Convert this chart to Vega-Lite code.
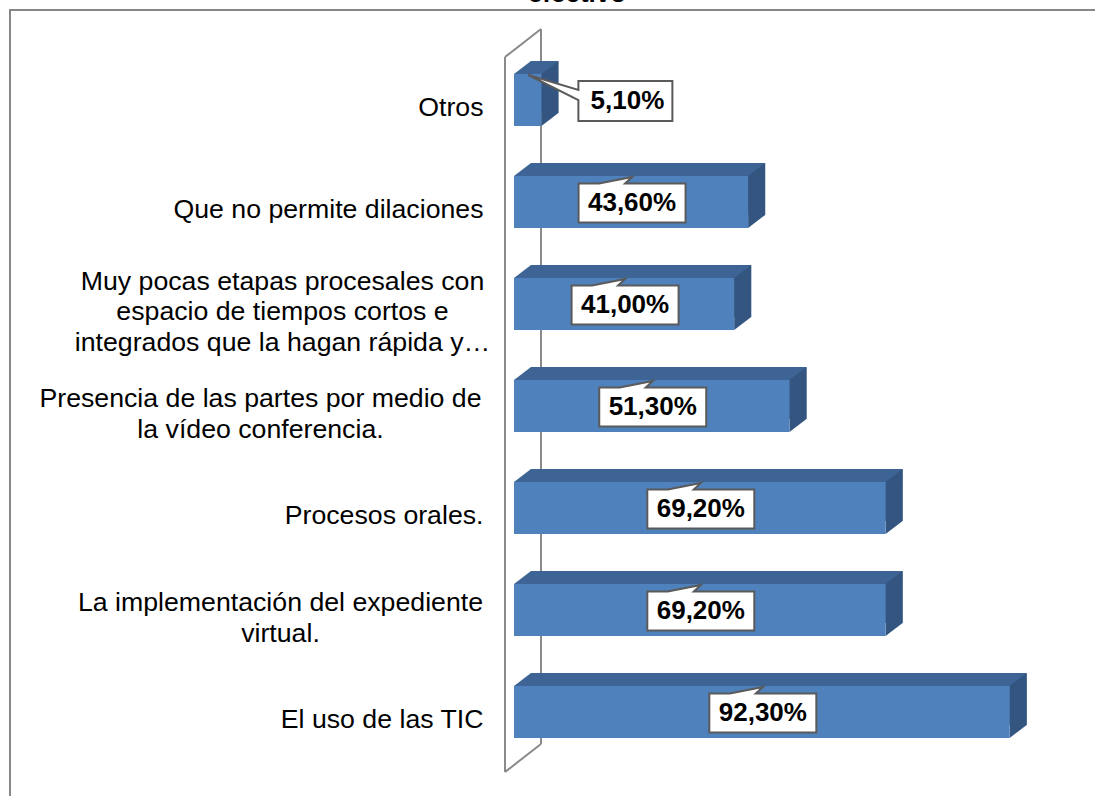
{
  "$schema": "https://vega.github.io/schema/vega-lite/v6.json",
  "autosize": "none",
  "width": 1100,
  "height": 800,
  "padding": {"left": 10, "top": 10, "right": -15, "bottom": -14},
  "title": {"text": "efectivo", "fontSize": 26, "fontWeight": "bold", "color": "#000000", "anchor": "middle", "frame": "group", "offset": -18, "baseline": "alphabetic", "dx": 17},
  "config": {
    "font": "Liberation Sans",
    "view": {"stroke": "#878787", "strokeWidth": 2},
    "axis": {"domain": false, "ticks": false, "grid": false},
    "locale": {"number": {"decimal": ",", "thousands": ".", "grouping": [3], "currency": ["", " €"]}}
  },
  "data": {"values": [
    {"cat": "Otros", "value": 0.051},
    {"cat": "Que no permite dilaciones", "value": 0.436},
    {"cat": "Muy pocas etapas procesales con\nespacio de tiempos cortos e\nintegrados que la hagan rápida y…", "value": 0.41},
    {"cat": "Presencia de las partes por medio de\nla vídeo conferencia.", "value": 0.513},
    {"cat": "Procesos orales.", "value": 0.692},
    {"cat": "La implementación del expediente\nvirtual.", "value": 0.692},
    {"cat": "El uso de las TIC", "value": 0.923}
  ]},
  "resolve": {"scale": {"x": "independent"}},
  "layer": [
    {
      "data": {"values": [{}]},
      "mark": {"type": "rule", "color": "#8a8a8a", "strokeWidth": 2, "xOffset": -9, "yOffset": -43, "y2Offset": 60},
      "encoding": {
        "x": {"datum": 0, "type": "quantitative", "scale": {"domain": [0, 1], "range": [504, 1041]}, "axis": null},
        "y": {"datum": "Otros", "type": "nominal", "title": null,
              "scale": {"domain": ["Otros", "Que no permite dilaciones", "Muy pocas etapas procesales con\nespacio de tiempos cortos e\nintegrados que la hagan rápida y…", "Presencia de las partes por medio de\nla vídeo conferencia.", "Procesos orales.", "La implementación del expediente\nvirtual.", "El uso de las TIC"], "range": [39, 753], "paddingInner": 0.49, "paddingOuter": 0.245},
              "axis": {"offset": -473, "labelFontSize": 26.7, "labelColor": "#000000", "labelLimit": 0, "labelLineHeight": 30.5,
                       "labelExpr": "split(datum.label, '\\n')",
                       "labelAlign": {"condition": {"test": "indexof(datum.value, '\\n') >= 0", "value": "center"}, "value": "right"},
                       "labelOffset": {"condition": [
                         {"test": "indexof(datum.value, 'Muy') == 0", "value": -22.5},
                         {"test": "indexof(datum.value, '\\n') >= 0", "value": -7}
                       ], "value": 8},
                       "labelPadding": {"condition": [
                         {"test": "indexof(datum.value, 'Muy') == 0", "value": 201},
                         {"test": "indexof(datum.value, 'Presencia') == 0", "value": 223},
                         {"test": "indexof(datum.value, 'La impl') == 0", "value": 203}
                       ], "value": 0}}},
        "y2": {"datum": "El uso de las TIC"}
      }
    },
    {
      "data": {"values": [{}]},
      "mark": {"type": "rule", "color": "#8a8a8a", "strokeWidth": 2, "xOffset": 27, "yOffset": -71, "y2Offset": 32},
      "encoding": {
        "x": {"datum": 0, "type": "quantitative", "scale": {"domain": [0, 1], "range": [504, 1041]}, "axis": null},
        "y": {"datum": "Otros", "type": "nominal", "title": null},
        "y2": {"datum": "El uso de las TIC"}
      }
    },
    {
      "data": {"values": [{}]},
      "mark": {"type": "rule", "color": "#8a8a8a", "strokeWidth": 2, "xOffset": -9, "x2Offset": 27, "yOffset": -43, "y2Offset": -71},
      "encoding": {
        "x": {"datum": 0, "type": "quantitative", "scale": {"domain": [0, 1], "range": [504, 1041]}, "axis": null},
        "x2": {"datum": 0},
        "y": {"datum": "Otros", "type": "nominal", "title": null},
        "y2": {"datum": "Otros"}
      }
    },
    {
      "data": {"values": [{}]},
      "mark": {"type": "rule", "color": "#8a8a8a", "strokeWidth": 2, "xOffset": -9, "x2Offset": 27, "yOffset": 60, "y2Offset": 32},
      "encoding": {
        "x": {"datum": 0, "type": "quantitative", "scale": {"domain": [0, 1], "range": [504, 1041]}, "axis": null},
        "x2": {"datum": 0},
        "y": {"datum": "El uso de las TIC", "type": "nominal", "title": null},
        "y2": {"datum": "El uso de las TIC"}
      }
    },
    {
      "mark": {"type": "bar", "color": "#3d6494", "xOffset": 17, "x2Offset": 17, "yOffset": -13, "y2Offset": -13},
      "encoding": {
        "x": {"field": "value", "type": "quantitative", "scale": {"domain": [0, 1], "range": [504, 1041]}, "axis": null},
        "y": {"field": "cat", "type": "nominal", "title": null}
      }
    },
    {
      "mark": {"type": "point", "shape": "M0,-26L17,-39L17,13L0,26Z", "size": 4, "filled": true, "color": "#335580", "opacity": 1, "strokeWidth": 0},
      "encoding": {
        "x": {"field": "value", "type": "quantitative", "scale": {"domain": [0, 1], "range": [504, 1041]}, "axis": null},
        "y": {"field": "cat", "type": "nominal", "title": null}
      }
    },
    {
      "mark": {"type": "bar", "color": "#4f81bd"},
      "encoding": {
        "x": {"field": "value", "type": "quantitative", "scale": {"domain": [0, 1], "range": [504, 1041]}, "axis": null},
        "y": {"field": "cat", "type": "nominal", "title": null}
      }
    },
    {
      "mark": {"type": "point", "shape": "M0,-26L17,-39L17,-26Z", "size": 4, "filled": true, "color": "#3d6494", "opacity": 1, "strokeWidth": 0},
      "encoding": {
        "x": {"datum": 0, "type": "quantitative", "scale": {"domain": [0, 1], "range": [504, 1041]}, "axis": null},
        "y": {"field": "cat", "type": "nominal", "title": null}
      }
    },
    {
      "transform": [{"filter": "datum.value > 0.1"}],
      "mark": {"type": "point", "shape": "M-53.5,-19.5L-33,-19.5L0,-26L-7,-19.5L53.5,-19.5L53.5,19.5L-53.5,19.5Z", "size": 4, "fill": "#ffffff", "stroke": "#5a5a5a", "strokeWidth": 2, "opacity": 1, "xOffset": 1, "yOffset": 1},
      "encoding": {
        "x": {"field": "value", "type": "quantitative", "scale": {"domain": [0, 2], "range": [504, 1041]}, "axis": null},
        "y": {"field": "cat", "type": "nominal", "title": null}
      }
    },
    {
      "transform": [{"filter": "datum.value < 0.1"}],
      "mark": {"type": "point", "shape": "M-47,-20L47,-20L47,20L-47,20L-47,-1L-97,-26L-47,-11Z", "size": 4, "fill": "#ffffff", "stroke": "#5a5a5a", "strokeWidth": 2, "opacity": 1, "xOffset": 84, "yOffset": 1},
      "encoding": {
        "x": {"field": "value", "type": "quantitative", "scale": {"domain": [0, 1], "range": [504, 1041]}, "axis": null},
        "y": {"field": "cat", "type": "nominal", "title": null}
      }
    },
    {
      "transform": [{"filter": "datum.value > 0.1"}],
      "mark": {"type": "text", "fontSize": 26, "fontWeight": "bold", "color": "#000000", "align": "center", "baseline": "middle", "xOffset": 1, "yOffset": 1},
      "encoding": {
        "x": {"field": "value", "type": "quantitative", "scale": {"domain": [0, 2], "range": [504, 1041]}, "axis": null},
        "y": {"field": "cat", "type": "nominal", "title": null},
        "text": {"field": "value", "type": "quantitative", "format": ".2%"}
      }
    },
    {
      "transform": [{"filter": "datum.value < 0.1"}],
      "mark": {"type": "text", "fontSize": 26, "fontWeight": "bold", "color": "#000000", "align": "center", "baseline": "middle", "xOffset": 86, "yOffset": 1},
      "encoding": {
        "x": {"field": "value", "type": "quantitative", "scale": {"domain": [0, 1], "range": [504, 1041]}, "axis": null},
        "y": {"field": "cat", "type": "nominal", "title": null},
        "text": {"field": "value", "type": "quantitative", "format": ".2%"}
      }
    }
  ]
}
